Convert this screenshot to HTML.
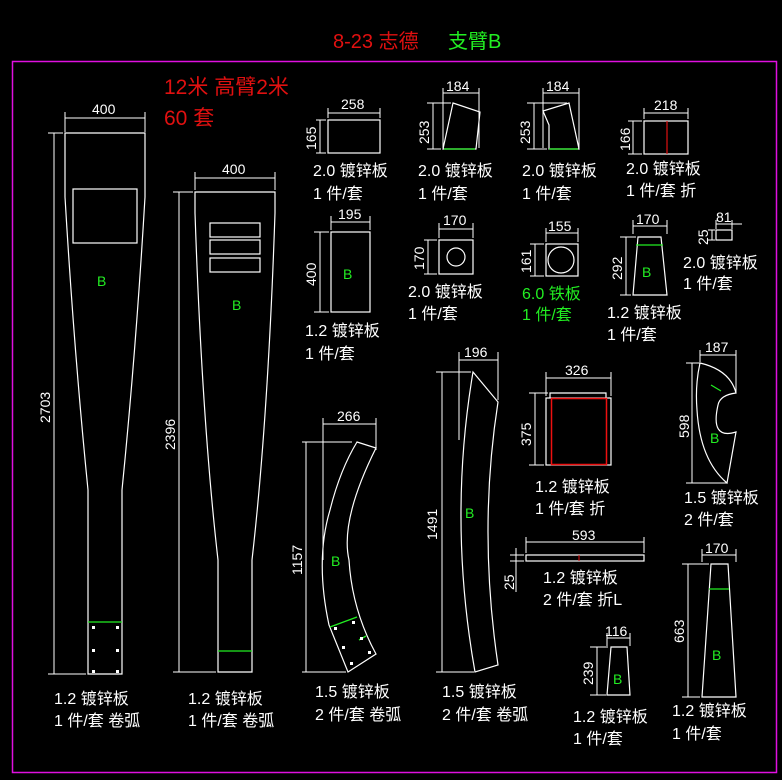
<!DOCTYPE html>
<html><head><meta charset="utf-8"><style>
html,body{margin:0;padding:0;background:#000;width:782px;height:780px;overflow:hidden}
svg{display:block}
text{font-family:"Liberation Sans","Noto Sans CJK SC",sans-serif}
.t{fill:#fff;font-size:16px}
.d{fill:#fff;font-size:14px}
.g{fill:#22ee22}
.w{stroke:#fff;stroke-width:1.2;fill:none}
.dl{stroke:#fff;stroke-width:1;fill:none}
</style></head><body>
<svg width="782" height="780" viewBox="0 0 782 780" xmlns="http://www.w3.org/2000/svg">
<rect x="12.5" y="61.5" width="764" height="711" fill="none" stroke="#e010e0" stroke-width="1.5"/>
<text x="333" y="48" font-size="20" fill="#e01010">8-23 志德</text>
<text x="448" y="48" font-size="20" fill="#22ee22">支臂B</text>
<text x="164" y="94" font-size="21" fill="#e01010">12米 高臂2米</text>
<text x="164" y="125" font-size="21" fill="#e01010">60 套</text>

<!-- part 1 -->
<path class="w" d="M65,133 L145,133 L145,197 Q136,350 122,490 L122,674 L88,674 L88,490 Q74,350 65,197 Z"/>
<rect class="w" x="73" y="189" width="64" height="54"/>
<line x1="88" y1="622" x2="122" y2="622" stroke="#22ee22" stroke-width="1.3"/>
<g fill="#fff"><rect x="92" y="626" width="3" height="3"/><rect x="116" y="626" width="3" height="3"/><rect x="92" y="649" width="3" height="3"/><rect x="116" y="649" width="3" height="3"/><rect x="92" y="670" width="3" height="3"/><rect x="116" y="670" width="3" height="3"/></g>
<path class="dl" d="M65,118 L145,118 M65,112 V132 M145,112 V132 M48,133 H63 M54,133 V674 M48,674 H86"/>
<text class="d" x="92" y="114">400</text>
<text class="d" transform="translate(50,423) rotate(-90)">2703</text>
<text class="g" x="97" y="286" font-size="14">B</text>
<text class="t" x="54" y="704">1.2 镀锌板</text>
<text class="t" x="54" y="726">1 件/套 卷弧</text>

<!-- part 2 -->
<path class="w" d="M195,192 L275,192 L275,213 Q268,420 252,560 L252,672 L218,672 L218,560 Q202,420 195,213 Z"/>
<rect class="w" x="210" y="223" width="50" height="14"/><rect class="w" x="210" y="240" width="50" height="14"/><rect class="w" x="210" y="258" width="50" height="14"/>
<line x1="218" y1="651" x2="252" y2="651" stroke="#22ee22" stroke-width="1.3"/>
<path class="dl" d="M195,178 H275 M195,172 V190 M275,172 V190 M173,192 H193 M179,192 V672 M173,672 H216"/>
<text class="d" x="222" y="174">400</text>
<text class="d" transform="translate(175,450) rotate(-90)">2396</text>
<text class="g" x="232" y="310" font-size="14">B</text>
<text class="t" x="188" y="704">1.2 镀锌板</text>
<text class="t" x="188" y="726">1 件/套 卷弧</text>

<!-- 258 -->
<rect class="w" x="328" y="120" width="52" height="33"/>
<path class="dl" d="M328,113 H380 M328,108 V118 M380,108 V118 M320,120 V153 M316,120 H326 M316,153 H326"/>
<text class="d" x="341" y="109">258</text>
<text class="d" transform="translate(316,150) rotate(-90)">165</text>
<text class="t" x="313" y="176">2.0 镀锌板</text>
<text class="t" x="313" y="199">1 件/套</text>

<!-- 184 a -->
<path class="w" d="M453,103 L480,112 L476,149 L443,149 Z"/>
<line x1="444" y1="149" x2="475" y2="149" stroke="#22ee22" stroke-width="1.3"/>
<path class="dl" d="M443,93 H479 M443,88 V148 M479,88 V148 M433,103 V149 M427,103 H451 M427,149 H441"/>
<text class="d" x="446" y="91">184</text>
<text class="d" transform="translate(429,144) rotate(-90)">253</text>
<text class="t" x="418" y="176">2.0 镀锌板</text>
<text class="t" x="418" y="199">1 件/套</text>

<!-- 184 b -->
<path class="w" d="M543,111 L569,103 L579,149 L549,149 L549,125 Z"/>
<line x1="549" y1="149" x2="578" y2="149" stroke="#22ee22" stroke-width="1.3"/>
<path class="dl" d="M543,93 H579 M543,88 V148 M579,88 V148 M534,103 V149 M527,103 H567 M527,149 H547"/>
<text class="d" x="546" y="91">184</text>
<text class="d" transform="translate(530,144) rotate(-90)">253</text>
<text class="t" x="522" y="176">2.0 镀锌板</text>
<text class="t" x="522" y="199">1 件/套</text>

<!-- 218 -->
<rect class="w" x="644" y="121" width="44" height="33"/>
<line x1="667" y1="121" x2="667" y2="154" stroke="#e01010" stroke-width="1.2"/>
<path class="dl" d="M644,113 H688 M644,108 V119 M688,108 V119 M633,121 V154 M628,121 H642 M628,154 H642"/>
<text class="d" x="654" y="110">218</text>
<text class="d" transform="translate(630,151) rotate(-90)">166</text>
<text class="t" x="626" y="174">2.0 镀锌板</text>
<text class="t" x="626" y="196">1 件/套 折</text>

<!-- 195 -->
<rect class="w" x="331" y="232" width="39" height="80"/>
<path class="dl" d="M331,222 H370 M331,216 V230 M370,216 V230 M320,232 V312 M314,232 H329 M314,312 H329"/>
<text class="d" x="338" y="219">195</text>
<text class="d" transform="translate(316,286) rotate(-90)">400</text>
<text class="g" x="343" y="279" font-size="14">B</text>
<text class="t" x="305" y="336">1.2 镀锌板</text>
<text class="t" x="305" y="359">1 件/套</text>

<!-- 170 sq -->
<rect class="w" x="439" y="240" width="34" height="34"/>
<circle class="w" cx="456" cy="257" r="9"/>
<path class="dl" d="M439,229 H473 M439,223 V238 M473,223 V238 M428,240 V274 M424,240 H437 M424,274 H437"/>
<text class="d" x="443" y="225">170</text>
<text class="d" transform="translate(424,270) rotate(-90)">170</text>
<text class="t" x="408" y="297">2.0 镀锌板</text>
<text class="t" x="408" y="319">1 件/套</text>

<!-- 155 -->
<rect class="w" x="546" y="244" width="32" height="32"/>
<circle class="w" cx="561" cy="260" r="13"/>
<path class="dl" d="M546,233 H578 M546,228 V242 M578,228 V242 M535,244 V276 M530,244 H544 M530,276 H544"/>
<text class="d" x="548" y="231">155</text>
<text class="d" transform="translate(531,273) rotate(-90)">161</text>
<text class="g" x="522" y="299" font-size="16">6.0 铁板</text>
<text class="g" x="522" y="320" font-size="16">1 件/套</text>

<!-- 170 trap -->
<path class="w" d="M638,237 L661,237 L667,295 L633,295 Z"/>
<line x1="636" y1="245" x2="663" y2="245" stroke="#22ee22" stroke-width="1.3"/>
<path class="dl" d="M633,226 H667 M633,220 V234 M667,220 V234 M626,237 V295 M620,237 H636 M620,295 H631"/>
<text class="d" x="636" y="224">170</text>
<text class="d" transform="translate(622,280) rotate(-90)">292</text>
<text class="g" x="642" y="277" font-size="14">B</text>
<text class="t" x="607" y="318">1.2 镀锌板</text>
<text class="t" x="607" y="340">1 件/套</text>

<!-- 81 -->
<rect class="w" x="716" y="230" width="16" height="10"/>
<path class="dl" d="M716,224 H742 M716,220 V229 M732,220 V229 M712,230 V240 M708,230 H715 M708,240 H715"/>
<text class="d" x="716" y="222" font-size="12">81</text>
<text class="d" transform="translate(708,245) rotate(-90)" font-size="12">25</text>
<text class="t" x="683" y="268">2.0 镀锌板</text>
<text class="t" x="683" y="289">1 件/套</text>

<!-- 266 arc -->
<path class="w" d="M357,442 L376,448 Q340,520 349,560 Q352,610 376,654 L348,672 L329,625 Q315,560 330,510 Q340,470 357,442 Z"/>
<line x1="330" y1="627" x2="357" y2="617" stroke="#22ee22" stroke-width="1.3"/>
<line x1="359" y1="640" x2="366" y2="636" stroke="#22ee22" stroke-width="1.3"/>
<g fill="#fff"><rect x="334" y="627" width="3" height="3"/><rect x="352" y="621" width="3" height="3"/><rect x="360" y="637" width="3" height="3"/><rect x="342" y="646" width="3" height="3"/><rect x="368" y="651" width="3" height="3"/><rect x="350" y="662" width="3" height="3"/></g>
<path class="dl" d="M323,424 H376 M323,418 V560 M376,418 V450 M302,442 H352 M306,442 V672 M302,672 H346"/>
<text class="d" x="337" y="421">266</text>
<text class="d" transform="translate(302,575) rotate(-90)">1157</text>
<text class="g" x="331" y="566" font-size="14">B</text>
<text class="t" x="315" y="697">1.5 镀锌板</text>
<text class="t" x="315" y="720">2 件/套 卷弧</text>

<!-- 196 strip -->
<path class="w" d="M473,372 L498,402 Q478,530 498,665 L475,672 Q448,520 473,372 Z"/>
<path class="dl" d="M459,360 H498 M459,352 V440 M498,352 V400 M436,372 H471 M442,372 V672 M436,672 H474"/>
<text class="d" x="464" y="357">196</text>
<text class="d" transform="translate(437,540) rotate(-90)">1491</text>
<text class="g" x="465" y="518" font-size="14">B</text>
<text class="t" x="442" y="697">1.5 镀锌板</text>
<text class="t" x="442" y="720">2 件/套 卷弧</text>

<!-- 326 -->
<rect class="w" x="546" y="398" width="65" height="67"/>
<path class="w" d="M550,398 V393 H606 V398"/>
<rect x="551.5" y="398.5" width="55" height="66" fill="none" stroke="#ee1010" stroke-width="1.5"/>
<path class="dl" d="M546,378 H611 M546,372 V396 M611,372 V396 M535,393 V465 M529,393 H548 M529,465 H544"/>
<text class="d" x="565" y="375">326</text>
<text class="d" transform="translate(531,446) rotate(-90)">375</text>
<text class="t" x="535" y="492">1.2 镀锌板</text>
<text class="t" x="535" y="514">1 件/套 折</text>

<!-- 593 -->
<rect class="w" x="526" y="555" width="118" height="6"/>
<line x1="579" y1="555" x2="579" y2="561" stroke="#e01010"/>
<path class="dl" d="M526,542 H644 M526,537 V553 M644,537 V553 M516,548 V592 M510,555 H524 M510,561 H524"/>
<text class="d" x="572" y="540">593</text>
<text class="d" transform="translate(514,590) rotate(-90)">25</text>
<text class="t" x="543" y="583">1.2 镀锌板</text>
<text class="t" x="543" y="605">2 件/套 折L</text>

<!-- 187 crescent -->
<path class="w" d="M700,363 Q730,370 736,393 Q720,395 718,405 Q710,440 736,432 L727,483 Q700,460 697,410 Q695,385 700,363 Z"/>
<line x1="711" y1="385" x2="721" y2="391" stroke="#22ee22" stroke-width="1.2"/>
<path class="dl" d="M700,355 H736 M700,350 V362 M736,350 V393 M686,363 H700 M692,363 V483 M686,483 H727"/>
<text class="d" x="705" y="352">187</text>
<text class="d" transform="translate(689,438) rotate(-90)">598</text>
<text class="g" x="710" y="443" font-size="14">B</text>
<text class="t" x="684" y="503">1.5 镀锌板</text>
<text class="t" x="684" y="525">2 件/套</text>

<!-- 116 -->
<path class="w" d="M611,647 L627,647 L630,695 L607,695 Z"/>
<path class="dl" d="M607,638 H630 M607,633 V646 M630,633 V646 M597,647 V695 M590,647 H608 M590,695 H606"/>
<text class="d" x="605" y="636">116</text>
<text class="d" transform="translate(593,685) rotate(-90)">239</text>
<text class="g" x="613" y="684" font-size="14">B</text>
<text class="t" x="573" y="722">1.2 镀锌板</text>
<text class="t" x="573" y="744">1 件/套</text>

<!-- 170 tall -->
<path class="w" d="M711,564 L728,564 L736,697 L702,697 Z"/>
<line x1="709" y1="589" x2="729" y2="589" stroke="#22ee22" stroke-width="1.3"/>
<path class="dl" d="M702,555 H736 M702,549 V562 M736,549 V562 M688,564 V697 M682,564 H709 M682,697 H700"/>
<text class="d" x="705" y="553">170</text>
<text class="d" transform="translate(684,643) rotate(-90)">663</text>
<text class="g" x="712" y="660" font-size="14">B</text>
<text class="t" x="672" y="716">1.2 镀锌板</text>
<text class="t" x="672" y="739">1 件/套</text>
</svg>
</body></html>
